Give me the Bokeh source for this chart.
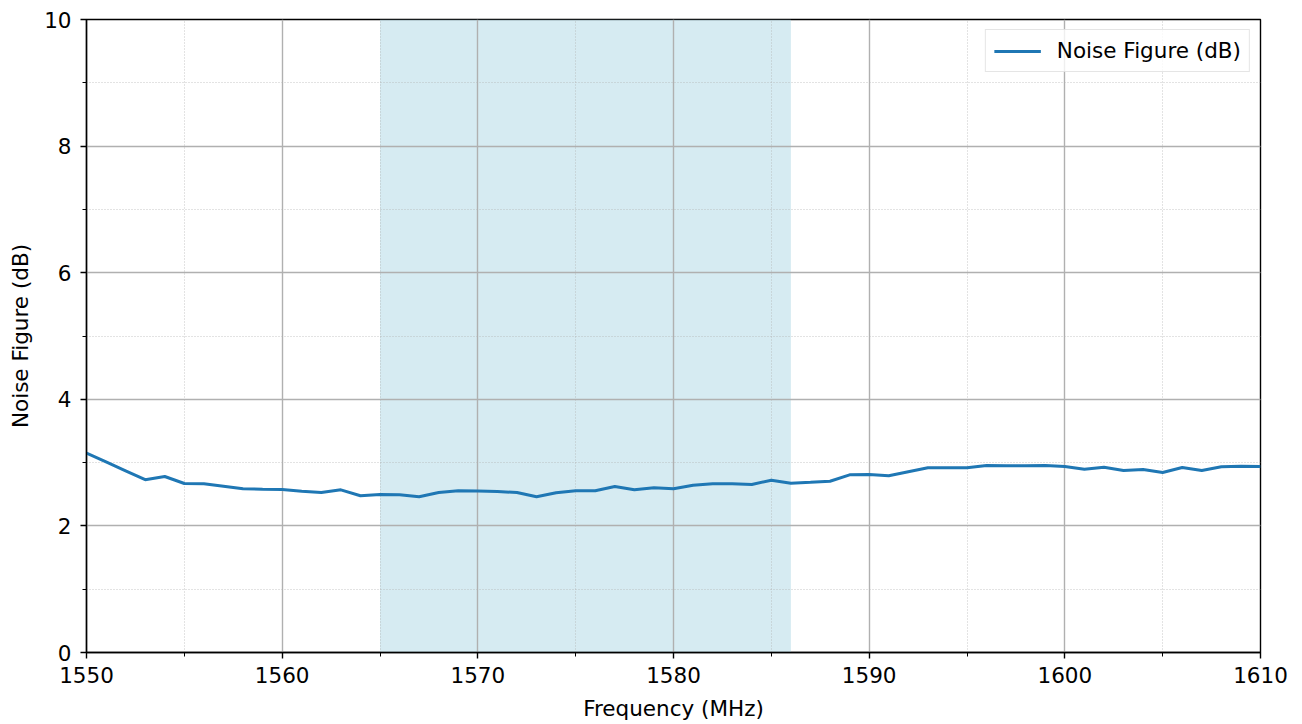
from bokeh.plotting import figure
from bokeh.models import (Range1d, SingleIntervalTicker, BoxAnnotation, Legend, LegendItem)
from bokeh.embed import file_html
from bokeh.resources import INLINE

# ---- data ----
freq_mhz = list(range(1550, 1611))
noise_figure_db = [
    3.15, 3.01, 2.87, 2.73, 2.78, 2.67, 2.665, 2.626, 2.586, 2.58,
    2.575, 2.548, 2.528, 2.57, 2.476, 2.496, 2.491, 2.46, 2.528, 2.555,
    2.551, 2.543, 2.528, 2.46, 2.523, 2.555, 2.555, 2.622, 2.57, 2.602,
    2.586, 2.643, 2.665, 2.665, 2.654, 2.722, 2.675, 2.69, 2.706, 2.807,
    2.812, 2.791, 2.855, 2.918, 2.918, 2.918, 2.954, 2.949, 2.949, 2.954,
    2.938, 2.896, 2.927, 2.875, 2.891, 2.844, 2.923, 2.875, 2.934, 2.943,
    2.938,
]
band_mhz = [1565, 1586]
x_limits = [1550, 1610]
y_limits = [0, 10]
series_label = "Noise Figure (dB)"
x_title = "Frequency (MHz)"
y_title = "Noise Figure (dB)"

FONT = "DejaVu Sans"
FS = "21.5px"

p = figure(width=1300, height=723, output_backend="svg", toolbar_location=None,
           x_range=Range1d(*x_limits), y_range=Range1d(*y_limits),
           min_border_left=86, min_border_right=40, min_border_top=19, min_border_bottom=71)
p.background_fill_color = "white"
p.border_fill_color = "white"
p.outline_line_color = "black"
p.outline_line_width = 1.4

# shaded band (below grid)
band = BoxAnnotation(left=band_mhz[0], right=band_mhz[1], fill_color="#add8e6",
                     fill_alpha=0.5, line_color=None, level="image")
p.add_layout(band)

p.xaxis.ticker = SingleIntervalTicker(interval=10, num_minor_ticks=2)
p.yaxis.ticker = SingleIntervalTicker(interval=2, num_minor_ticks=2)

for ax in (p.xaxis[0], p.yaxis[0]):
    ax.axis_line_color = "black"
    ax.axis_line_width = 1.4
    ax.major_tick_in = 0
    ax.major_tick_out = 6
    ax.minor_tick_in = 0
    ax.minor_tick_out = 4
    ax.major_tick_line_width = 1.4
    ax.minor_tick_line_width = 1.0
    ax.major_tick_line_color = "black"
    ax.minor_tick_line_color = "black"
    ax.major_label_text_font = FONT
    ax.major_label_text_font_size = FS
    ax.major_label_text_color = "black"
    ax.axis_label_text_font = FONT
    ax.axis_label_text_font_size = FS
    ax.axis_label_text_font_style = "normal"
    ax.axis_label_text_color = "black"

p.xaxis.axis_label = x_title
p.yaxis.axis_label = y_title
p.xaxis.major_label_standoff = 8
p.xaxis.axis_label_standoff = 10
p.yaxis.major_label_standoff = 9
p.yaxis.axis_label_standoff = 8

for g in (p.xgrid[0], p.ygrid[0]):
    g.grid_line_color = "#b0b0b0"
    g.grid_line_width = 1.4
    g.minor_grid_line_color = "#b0b0b0"
    g.minor_grid_line_alpha = 0.8
    g.minor_grid_line_width = 0.9
    g.minor_grid_line_dash = "1 2"

r = p.line(freq_mhz, noise_figure_db, line_color="#1f77b4", line_width=3)

legend = Legend(items=[LegendItem(label=series_label, renderers=[r])],
                location="top_right")
legend.label_text_font = FONT
legend.label_text_font_size = FS
legend.label_text_color = "black"
legend.border_line_color = "#cccccc"
legend.border_line_width = 1.4
legend.background_fill_alpha = 0.8
legend.padding = 8
legend.label_standoff = 16
legend.glyph_width = 47
legend.label_height = 22
legend.margin = 10
p.add_layout(legend)

open("out.html", "w").write(file_html(p, INLINE))
